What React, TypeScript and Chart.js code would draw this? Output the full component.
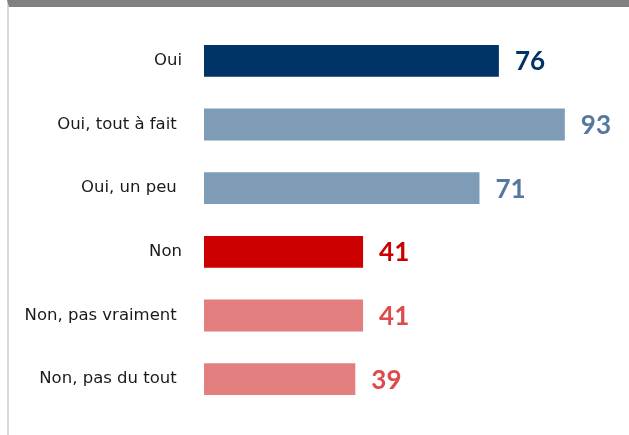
import React, { useEffect, useRef } from "react";
import { Chart, registerables } from "chart.js";

Chart.register(...registerables);

const categories = ["Oui", "Oui, tout à fait ", "Oui, un peu ", "Non", "Non, pas vraiment ", "Non, pas du tout "];
const values = [76, 93, 71, 41, 41, 39];
const barColors = ["#003366", "#7F9CB6", "#7F9CB6", "#CC0000", "#E37F7F", "#E37F7F"];
const valueColors = ["#003366", "#55789F", "#55789F", "#CC0000", "#DD4B4E", "#DD4B4E"];

const valueLabels = {
  id: "valueLabels",
  afterDatasetsDraw(chart: any) {
    const ctx = chart.ctx;
    const meta = chart.getDatasetMeta(0);
    ctx.save();
    ctx.font = "bold 26px Lato";
    ctx.textAlign = "left";
    ctx.textBaseline = "middle";
    meta.data.forEach((el: any, i: number) => {
      ctx.fillStyle = valueColors[i];
      ctx.fillText(String(values[i]), el.x + 16, el.y + 1);
    });
    ctx.restore();
  },
};

export default function App() {
  const ref = useRef<HTMLCanvasElement>(null);
  useEffect(() => {
    document.body.style.margin = "0";
    const chart = new Chart(ref.current!, {
      type: "bar",
      data: {
        labels: categories,
        datasets: [
          {
            data: values,
            backgroundColor: barColors,
            barPercentage: 0.5,
            categoryPercentage: 1,
          },
        ],
      },
      options: {
        indexAxis: "y",
        animation: false,
        responsive: false,
        layout: { padding: { top: 22, bottom: 24, right: 37, left: 0 } },
        plugins: { legend: { display: false }, tooltip: { enabled: false } },
        scales: {
          x: { display: false, min: 0, max: 100 },
          y: {
            grid: { display: false, drawTicks: false },
            border: { display: false },
            ticks: {
              padding: 22,
              color: "#1a1a1a",
              font: { family: "'DejaVu Sans'", size: 16.5 },
            },
            afterFit(scale: any) {
              scale.width = 195;
              scale.paddingTop = 0;
              scale.paddingBottom = 0;
            },
          },
        },
      },
      plugins: [valueLabels],
    });
    return () => chart.destroy();
  }, []);
  return (
    <div
      style={{
        position: "absolute",
        left: 7,
        top: 0,
        width: 622,
        height: 435,
        boxSizing: "border-box",
        borderTop: "7px solid #808080",
        borderLeft: "2px solid #D9D9D9",
        background: "#fff",
      }}
    >
      <canvas ref={ref} width={620} height={428} style={{ display: "block" }} />
    </div>
  );
}
